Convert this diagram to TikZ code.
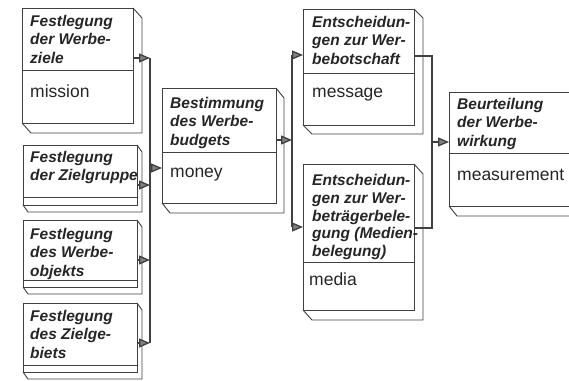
\documentclass[tikz,border=0pt]{standalone}
\usepackage{fontspec}
\setmainfont{Liberation Sans}
\usetikzlibrary{calc,arrows.meta}

\begin{document}
\begin{tikzpicture}[x=1pt, y=-1pt,
    front/.style={draw=black!75, line width=0.9pt, fill=white, inner sep=0pt, outer sep=0pt, anchor=north west},
    seite/.style={draw=black!75, line width=0.9pt, line join=round},
    kopf/.style={anchor=north west, inner sep=0pt, align=left, text=black!85, font=\fontsize{15.5}{18.5}\selectfont\bfseries\itshape},
    fuss/.style={anchor=base west, inner sep=0pt, text=black!85, font=\fontsize{17.5}{20}\selectfont},
    linie/.style={draw=black!75, line width=1.3pt},
    pfeil/.style={linie, -{Triangle[length=11pt, width=9pt, fill=black!50]}}
]

        % Rahmen
        \useasboundingbox (0,0) rectangle (569,380);
        \clip (0,0) rectangle (569,380);

        % Festlegung der Werbeziele
        \node[front, minimum width=111pt, minimum height=115pt] (ziele) at (22,8) {};
        \draw[seite] (ziele.north east) -- ++(9,10) -- ($(ziele.south east)+(9,10)$) -- ($(ziele.south west)+(9,10)$) -- (ziele.south west);
        \draw[seite] (ziele.west |- 0,70) -- (ziele.east |- 0,70);
        \node[kopf] (zielek) at (30,15) {Festlegung\\der Werbe-\\ziele};
        \node[fuss] (zielef) at (30,97) {mission};

        % Festlegung der Zielgruppe
        \node[front, minimum width=114pt, minimum height=60pt] (zielgruppe) at (23,145) {};
        \draw[seite] (zielgruppe.north east) -- ++(5,7) -- ($(zielgruppe.south east)+(5,7)$) -- ($(zielgruppe.south west)+(5,7)$) -- (zielgruppe.south west);
        \draw[seite] (zielgruppe.west |- 0,197) -- (zielgruppe.east |- 0,197);
        \node[kopf] (zielgruppek) at (30,151) {Festlegung\\der Zielgruppe};

        % Festlegung des Werbeobjekts
        \node[front, minimum width=114pt, minimum height=67pt] (objekt) at (23,220) {};
        \draw[seite] (objekt.north east) -- ++(5,7) -- ($(objekt.south east)+(5,7)$) -- ($(objekt.south west)+(5,7)$) -- (objekt.south west);
        \draw[seite] (objekt.west |- 0,280) -- (objekt.east |- 0,280);
        \node[kopf] (objektk) at (30,228) {Festlegung\\des Werbe-\\objekts};

        % Festlegung des Zielgebiets
        \node[front, minimum width=114pt, minimum height=69pt] (gebiet) at (23,303) {};
        \draw[seite] (gebiet.north east) -- ++(5,7) -- ($(gebiet.south east)+(5,7)$) -- ($(gebiet.south west)+(5,7)$) -- (gebiet.south west);
        \draw[seite] (gebiet.west |- 0,365) -- (gebiet.east |- 0,365);
        \node[kopf] (gebietk) at (30,310) {Festlegung\\des Zielge-\\biets};

        % Bestimmung des Werbebudgets
        \node[front, minimum width=114pt, minimum height=115pt] (budget) at (162,88) {};
        \draw[seite] (budget.north east) -- ++(8,10) -- ($(budget.south east)+(8,10)$) -- ($(budget.south west)+(8,10)$) -- (budget.south west);
        \draw[seite] (budget.west |- 0,152) -- (budget.east |- 0,152);
        \node[kopf] (budgetk) at (170,97) {Bestimmung\\des Werbe-\\budgets};
        \node[fuss] (budgetf) at (170,177) {money};

        % Werbebotschaft
        \node[front, minimum width=111pt, minimum height=116pt] (botschaft) at (303,9) {};
        \draw[seite] (botschaft.north east) -- ++(9,9) -- ($(botschaft.south east)+(9,9)$) -- ($(botschaft.south west)+(9,9)$) -- (botschaft.south west);
        \draw[seite] (botschaft.west |- 0,73) -- (botschaft.east |- 0,73);
        \node[kopf] (botschaftk) at (312,16) {Entscheidun-\\gen zur Wer-\\bebotschaft};
        \node[fuss] (botschaftf) at (312,97) {message};

        % Medienbelegung
        \node[front, minimum width=111pt, minimum height=146pt] (medien) at (303,164) {};
        \draw[seite] (medien.north east) -- ++(9,10) -- ($(medien.south east)+(9,10)$) -- ($(medien.south west)+(9,10)$) -- (medien.south west);
        \draw[seite] (medien.west |- 0,262) -- (medien.east |- 0,262);
        \node[kopf, font=\fontsize{15.5}{17.8}\selectfont\bfseries\itshape] (medienk) at (312,174) {Entscheidun-\\gen zur Wer-\\beträgerbele-\\gung (Medien-\\belegung)};
        \node[fuss] (medienf) at (309,285) {media};

        % Werbewirkung
        \node[front, minimum width=126pt, minimum height=114pt] (wirkung) at (449,92) {};
        \draw[seite] (wirkung.north east) -- ++(8,10) -- ($(wirkung.south east)+(8,10)$) -- ($(wirkung.south west)+(8,10)$) -- (wirkung.south west);
        \draw[seite] (wirkung.west |- 0,153) -- (wirkung.east |- 0,153);
        \node[kopf] (wirkungk) at (457,98) {Beurteilung\\der Werbe-\\wirkung};
        \node[fuss] (wirkungf) at (457,180) {measurement};

        % Sammelleitung links
        \coordinate (s1) at (150,58);
        \coordinate (s2) at (150,185);
        \coordinate (s3) at (150,260);
        \coordinate (s4) at (150,343);
        \coordinate (s5) at (150,168);
        \draw[linie] (s1) -- (s4);
        \draw[pfeil] (ziele.east |- s1) -- (s1);
        \draw[pfeil] (zielgruppe.east |- s2) -- (s2);
        \draw[pfeil] (objekt.east |- s3) -- (s3);
        \draw[pfeil] (gebiet.east |- s4) -- (s4);
        \draw[pfeil] (s5) -- (budget.west |- s5);

        % Sammelleitung Mitte
        \coordinate (m1) at (292,140);
        \coordinate (m2) at (292,55);
        \coordinate (m3) at (292,227);
        \draw[linie] (m2) -- (m3);
        \draw[pfeil] (budget.east |- m1) -- (m1);
        \draw[pfeil] (m2) -- (botschaft.west |- m2);
        \draw[pfeil] (m3) -- (medien.west |- m3);

        % Sammelleitung rechts
        \coordinate (r1) at (432,56);
        \coordinate (r2) at (432,228);
        \coordinate (r3) at (432,142);
        \draw[linie] (botschaft.east |- r1) -- (r1) -- (r2) -- (medien.east |- r2);
        \draw[pfeil] (r3) -- (wirkung.west |- r3);

\end{tikzpicture}
\end{document}
